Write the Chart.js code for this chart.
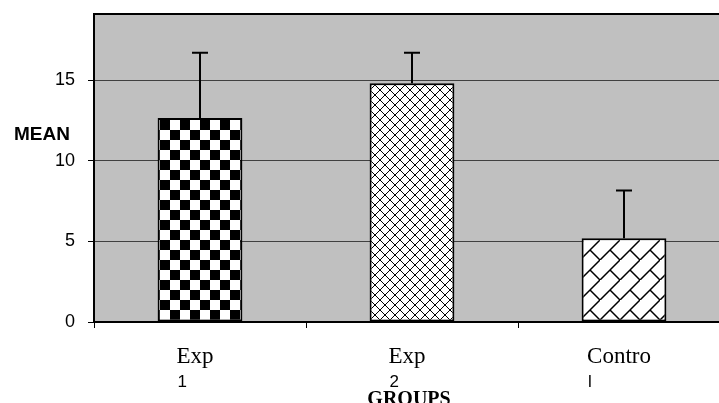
<!DOCTYPE html>
<html>
<head>
<meta charset="utf-8">
<script src="https://cdn.jsdelivr.net/npm/chart.js@4"></script>
<style>
  html, body { margin: 0; padding: 0; background: #fff; overflow: hidden; }
  #wrap { width: 732px; height: 403px; position: relative; }
</style>
</head>
<body>
<div id="wrap"><canvas id="groups-chart"></canvas></div>
<script>
// values
const categories = [["Exp", "1"], ["Exp", "2"], ["Contro", "l"]];
const means = [12.65, 14.8, 5.2];
const errors = [4.05, 1.9, 2.95];
const yTicks = [0, 5, 10, 15];

function makePattern(size, draw) {
  const c = document.createElement("canvas");
  c.width = size;
  c.height = size;
  const ctx = c.getContext("2d");
  ctx.fillStyle = "#fff";
  ctx.fillRect(0, 0, size, size);
  draw(ctx, size);
  return document.getElementById("groups-chart").getContext("2d").createPattern(c, "repeat");
}

const checker = makePattern(20, (ctx) => {
  ctx.fillStyle = "#000";
  ctx.fillRect(0, 0, 10, 10);
  ctx.fillRect(10, 10, 10, 10);
});

const diamonds = makePattern(10, (ctx, s) => {
  ctx.strokeStyle = "#000";
  ctx.lineWidth = 1;
  ctx.beginPath();
  ctx.moveTo(0, 0); ctx.lineTo(s, s);
  ctx.moveTo(0, s); ctx.lineTo(s, 0);
  ctx.stroke();
});

const bricks = makePattern(20, (ctx, s) => {
  ctx.strokeStyle = "#000";
  ctx.lineWidth = 1.5;
  ctx.beginPath();
  ctx.moveTo(-2, s + 2); ctx.lineTo(s + 2, -2);
  ctx.moveTo(s / 2, s / 2); ctx.lineTo(s, s);
  ctx.stroke();
});

const plotBackground = {
  id: "plotBackground",
  beforeDraw(chart) {
    const { ctx, chartArea: a } = chart;
    ctx.save();
    ctx.fillStyle = "#c0c0c0";
    ctx.fillRect(a.left, a.top, a.right - a.left, a.bottom - a.top);
    ctx.restore();
  },
  afterDraw(chart) {
    const { ctx, chartArea: a } = chart;
    ctx.save();
    ctx.strokeStyle = "#000";
    ctx.lineWidth = 2;
    ctx.beginPath();
    ctx.moveTo(a.left - 1, a.top);
    ctx.lineTo(a.right + 1, a.top);
    ctx.stroke();

    // y title, horizontal beside the axis
    ctx.fillStyle = "#000";
    ctx.font = "bold 19px 'Liberation Sans', Arial, sans-serif";
    ctx.textBaseline = "alphabetic";
    ctx.fillText("MEAN", 14, 140);

    // category labels: first line serif, second line sans
    const x = chart.scales.x;
    categories.forEach((lines, i) => {
      const cx = x.getPixelForValue(i);
      ctx.font = "23px 'Liberation Serif', 'Times New Roman', serif";
      const w = ctx.measureText(lines[0]).width;
      const x0 = cx - w / 2 - 5;
      ctx.fillText(lines[0], x0, 363);
      ctx.font = "17px 'Liberation Sans', Arial, sans-serif";
      ctx.fillText(lines[1], x0 + 1, 387);
    });

    ctx.font = "bold 20px 'Liberation Serif', 'Times New Roman', serif";
    ctx.textAlign = "center";
    ctx.fillText("GROUPS", 409, 405);
    ctx.restore();
  },
};

const errorBars = {
  id: "errorBars",
  afterDatasetsDraw(chart) {
    const { ctx } = chart;
    const y = chart.scales.y;
    const meta = chart.getDatasetMeta(0);
    ctx.save();
    ctx.strokeStyle = "#000";
    ctx.lineWidth = 2;
    meta.data.forEach((bar, i) => {
      const top = y.getPixelForValue(means[i] + errors[i]);
      ctx.beginPath();
      ctx.moveTo(bar.x, bar.y);
      ctx.lineTo(bar.x, top);
      ctx.moveTo(bar.x - 8, top);
      ctx.lineTo(bar.x + 8, top);
      ctx.stroke();
    });
    ctx.restore();
  },
};

new Chart(document.getElementById("groups-chart"), {
  type: "bar",
  data: {
    labels: categories.map((l) => l.join(" ")),
    datasets: [
      {
        data: means,
        backgroundColor: [checker, diamonds, bricks],
        borderColor: "#000",
        borderWidth: 2,
        borderSkipped: false,
        categoryPercentage: 1,
        barPercentage: 0.4,
      },
    ],
  },
  options: {
    responsive: true,
    maintainAspectRatio: false,
    animation: false,
    layout: { padding: { left: 0, top: 14, right: 2, bottom: 0 } },
    plugins: { legend: { display: false }, tooltip: { enabled: false } },
    scales: {
      x: {
        grid: {
          display: true,
          drawOnChartArea: false,
          drawTicks: true,
          tickLength: 6,
          offset: true,
          color: "#000",
          lineWidth: 1,
        },
        border: { color: "#000", width: 2 },
        ticks: { display: false },
        afterFit(scale) {
          scale.height = 81;
        },
      },
      y: {
        min: 0,
        max: 19.1,
        afterBuildTicks(scale) {
          scale.ticks = yTicks.map((v) => ({ value: v }));
        },
        grid: {
          color: "#404040",
          lineWidth: 1,
          tickLength: 6,
          tickColor: "#000",
        },
        border: { color: "#000", width: 2 },
        ticks: {
          padding: 13,
          color: "#000",
          font: { family: "'Liberation Sans', Arial, sans-serif", size: 18 },
        },
        afterFit(scale) {
          scale.width = 94;
          scale.paddingTop = 0;
          scale.paddingBottom = 0;
        },
      },
    },
  },
  plugins: [plotBackground, errorBars],
});
</script>
</body>
</html>
